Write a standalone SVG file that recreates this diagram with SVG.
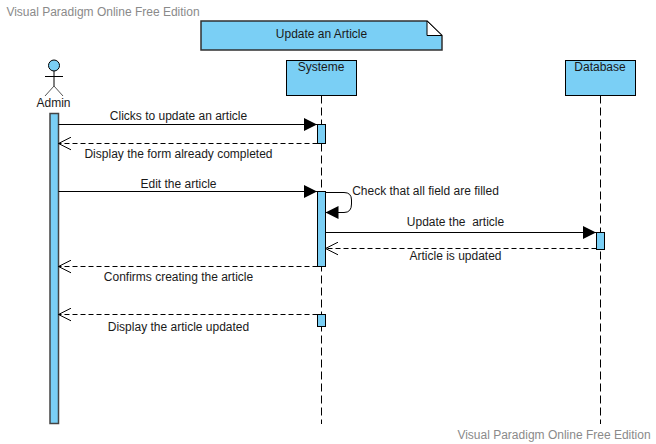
<svg xmlns="http://www.w3.org/2000/svg" width="656" height="444" viewBox="0 0 656 444">
<defs>
<marker id="solid" markerUnits="userSpaceOnUse" markerWidth="14" markerHeight="14" refX="13" refY="7" orient="auto"><path d="M0 0.5L13 7L0 13.5Z" fill="#000"/></marker>
<marker id="open" markerUnits="userSpaceOnUse" markerWidth="15" markerHeight="14" refX="13.500" refY="7" orient="auto"><path d="M1 0.7L13.500 7L1 13.300" fill="none" stroke="#000" stroke-width="1"/></marker>
</defs>
<style>
text{font-family:"Liberation Sans",Arial,sans-serif;font-size:12px;fill:#1a1a1a;text-anchor:middle;white-space:pre}
.wm{fill:#8a8a8a}
.box{fill:#7acff5;stroke:#000;stroke-width:1}
.life{fill:none;stroke:#000;stroke-width:1;stroke-dasharray:8 4}
.msg{fill:none;stroke:#000;stroke-width:1}
.sol{marker-end:url(#solid)}
.ret{stroke-dasharray:5 3;marker-end:url(#open)}
</style>
<rect width="656" height="444" fill="#fff"/>
<text class="wm" x="103" y="16">Visual Paradigm Online Free Edition</text>
<text class="wm" x="554" y="439">Visual Paradigm Online Free Edition</text>
<g id="frame-title">
<path d="M201 21H427L442 35.500V50H201Z" fill="#7acff5" stroke="#303030" stroke-width="1.500"/>
<path d="M427 21V35.500H442Z" fill="#fff" stroke="#000" stroke-width="1"/>
<text x="321.500" y="38">Update an Article</text>
</g>
<g id="admin">
<circle cx="54" cy="65.500" r="5.500" fill="#7acff5" stroke="#000"/>
<path d="M54 71V86M45 76.500H63" fill="none" stroke="#000"/>
<path d="M54 86L45 96M54 86L63 96" fill="none" stroke="#555"/>
<text x="53.500" y="107">Admin</text>
<rect x="50" y="113.500" width="8.500" height="310" fill="#7acff5" stroke="#444" stroke-width="1.500"/>
</g>
<g id="systeme">
<path class="life" d="M321.500 95.500V424"/>
<rect class="box" x="286.500" y="60.500" width="70" height="35"/>
<text x="321" y="71">Systeme</text>
<rect class="box" x="317.500" y="124.500" width="8" height="19"/>
<rect class="box" x="317.500" y="191.500" width="8" height="75"/>
<rect class="box" x="317.500" y="314.500" width="8" height="12"/>
</g>
<g id="database">
<path class="life" d="M600.500 95.500V424"/>
<rect class="box" x="565.500" y="60.500" width="70" height="35"/>
<text x="600" y="71">Database</text>
<rect class="box" x="596.500" y="232.500" width="8" height="17"/>
</g>
<g id="connectors">
<path class="msg sol" d="M58.500 124.500H317"/>
<path class="msg ret" d="M317.500 143.500H58.500"/>
<path class="msg sol" d="M58.500 191.500H317"/>
<path class="msg sol" d="M325.500 192.500H344Q351.500 192.500 351.500 200V204Q351.500 212.500 344 212.500H325.500"/>
<path class="msg sol" d="M325.500 232.500H596"/>
<path class="msg ret" d="M596.500 248.500H325.500"/>
<path class="msg ret" d="M317.500 266.500H58.500"/>
<path class="msg ret" d="M317.500 314.500H58.500"/>
</g>
<g id="labels">
<text x="178.500" y="120">Clicks to update an article</text>
<text x="178.500" y="158">Display the form already completed</text>
<text x="178.500" y="188">Edit the article</text>
<text x="425.500" y="195">Check that all field are filled</text>
<text x="455.500" y="226" xml:space="preserve">Update the  article</text>
<text x="455.500" y="260">Article is updated</text>
<text x="178.500" y="281">Confirms creating the article</text>
<text x="178.500" y="331">Display the article updated</text>
</g>
</svg>
